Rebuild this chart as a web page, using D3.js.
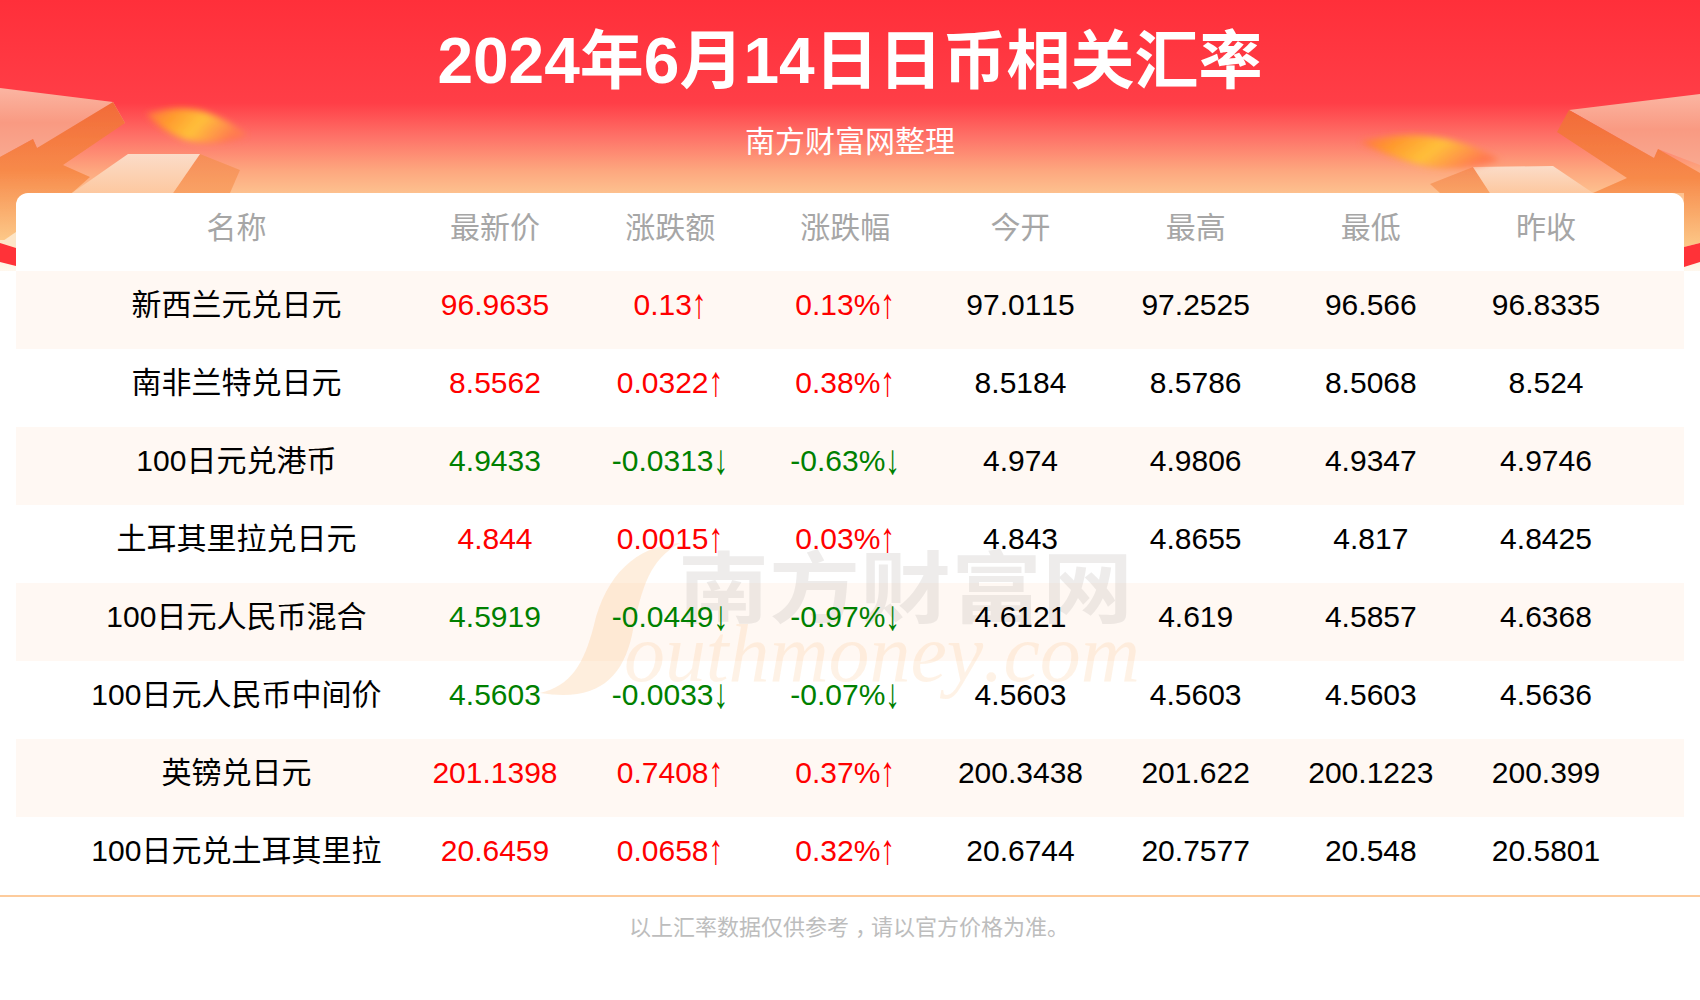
<!DOCTYPE html>
<html lang="zh">
<head>
<meta charset="utf-8">
<title>2024年6月14日日币相关汇率</title>
<script src="https://d3js.org/d3.v7.min.js"></script>
<style>
	html, body { margin: 0; padding: 0; background: #fff; }
	svg { display: block; }
	text { font-family: "Liberation Sans", "Noto Sans CJK SC", sans-serif; font-kerning: none; }
</style>
</head>
<body>
<div id="chart-area"></div>
<script>
const titleText = "2024年6月14日日币相关汇率"
const subtitleText = "南方财富网整理"
const footerBefore = "以上汇率数据仅供参考"
const footerComma = "，"
const footerAfter = "请以官方价格为准。"
const columns = ["最新价", "涨跌额", "涨跌幅", "今开", "最高", "最低", "昨收"]
const names = ["新西兰元兑日元", "南非兰特兑日元", "100日元兑港币", "土耳其里拉兑日元", "100日元人民币混合", "100日元人民币中间价", "英镑兑日元", "100日元兑土耳其里拉"]
const latest = [96.9635, 8.5562, 4.9433, 4.844, 4.5919, 4.5603, 201.1398, 20.6459]
const change = [0.13, 0.0322, -0.0313, 0.0015, -0.0449, -0.0033, 0.7408, 0.0658]
const changePct = [0.13, 0.38, -0.63, 0.03, -0.97, -0.07, 0.37, 0.32]
const open = [97.0115, 8.5184, 4.974, 4.843, 4.6121, 4.5603, 200.3438, 20.6744]
const high = [97.2525, 8.5786, 4.9806, 4.8655, 4.619, 4.5603, 201.622, 20.7577]
const low = [96.566, 8.5068, 4.9347, 4.817, 4.5857, 4.5603, 200.1223, 20.548]
const prevClose = [96.8335, 8.524, 4.9746, 4.8425, 4.6368, 4.5636, 200.399, 20.5801]

const WIDTH = 1700
const HEIGHT = 1000
const UP = "#ff0000"
const DOWN = "#008000"

const svg = d3.select("#chart-area").append("svg")
	.attr("width", WIDTH)
	.attr("height", HEIGHT)

const defs = svg.append("defs")

function gradient(id, stops, x2, y2) {
	const g = defs.append("linearGradient").attr("id", id)
		.attr("x1", 0).attr("y1", 0).attr("x2", x2).attr("y2", y2)
	stops.forEach(s => g.append("stop").attr("offset", s[0]).attr("stop-color", s[1]))
}
gradient("bg", [[0, "#ff2f3a"], [0.38, "#ff3e47"], [0.505, "#fe7268"], [0.627, "#fda67e"], [0.71, "#fdc08e"], [0.86, "#fde0b8"], [1, "#fff8ee"]], 0, 1)
gradient("pink", [[0, "#fbb5a2"], [0.5, "#f99a82"], [1, "#f9a88f"]], 0, 1)
gradient("orange", [[0, "#f26a38"], [0.5, "#f78a4a"], [1, "#fcc888"]], 0, 1)
gradient("paper", [[0, "#fbdcc8"], [1, "#fdc8a0"]], 0, 1)
gradient("paperSide", [[0, "#f68d58"], [1, "#f9a265"]], 0, 1)
gradient("flame", [[0, "#ff6e45"], [0.3, "#ff9a2e"], [0.6, "#ffc03a"], [1, "#ff7a50"]], 1, 0.3)

defs.append("filter").attr("id", "soft").attr("x", "-30%").attr("y", "-60%").attr("width", "160%").attr("height", "220%")
	.append("feGaussianBlur").attr("stdDeviation", 3)
defs.append("filter").attr("id", "edge")
	.append("feGaussianBlur").attr("stdDeviation", 0.7)

// header background
svg.append("rect")
	.attr("width", WIDTH)
	.attr("height", 271)
	.attr("fill", "url(#bg)")

// decoration, left and right of the title
const decor = svg.append("g").attr("filter", "url(#edge)")
const shape = (pts, fill) => decor.append("polygon").attr("points", pts.join(" ")).attr("fill", fill)

shape([[0, 157], [33, 139], [37, 148], [125, 123], [113, 102], [0, 88]], "url(#pink)")
shape([[0, 157], [33, 139], [37, 148], [113, 102], [125, 123], [63, 165], [90, 177], [72, 193], [16, 240], [0, 240]], "url(#orange)")
shape([[200, 154], [240, 170], [230, 193], [173, 193]], "url(#paperSide)")
shape([[128, 154], [200, 154], [173, 193], [72, 193]], "url(#paper)")
shape([[0, 243], [16, 232], [16, 248]], "#fde6c8")
shape([[0, 243], [16, 248], [16, 266], [0, 262]], "#ff3138")

shape([[1569, 110], [1700, 94], [1700, 165], [1658, 149], [1654, 158]], "url(#pink)")
shape([[1557, 132], [1569, 110], [1654, 158], [1658, 149], [1700, 173], [1700, 243], [1684, 247], [1684, 193], [1593, 193], [1627, 178]], "url(#orange)")
shape([[1430, 184], [1473, 167], [1490, 193], [1440, 193]], "url(#paperSide)")
shape([[1473, 167], [1553, 166], [1593, 193], [1490, 193]], "url(#paper)")
shape([[1684, 247], [1700, 243], [1700, 262], [1684, 267]], "#ff3138")

const flames = svg.append("g").attr("filter", "url(#soft)").attr("fill", "url(#flame)")
flames.append("path").attr("d", "M146,114 Q180,104 205,112 T247,135 Q220,146 195,142 T146,114 Z")
flames.append("path").attr("d", "M1360,142 Q1400,132 1435,137 T1500,160 Q1470,170 1440,168 T1360,142 Z")

// title
svg.append("text")
	.attr("x", WIDTH / 2)
	.attr("y", 83)
	.attr("text-anchor", "middle")
	.attr("font-size", 64)
	.attr("font-weight", 700)
	.attr("fill", "#fff")
	.text(titleText)

svg.append("text")
	.attr("x", WIDTH / 2)
	.attr("y", 152)
	.attr("text-anchor", "middle")
	.attr("font-size", 30)
	.attr("fill", "#fff")
	.text(subtitleText)

// table card
svg.append("path")
	.attr("d", "M16,271 V205 a12,12 0 0 1 12,-12 H1672 a12,12 0 0 1 12,12 V271 Z")
	.attr("fill", "#fff")

// scales
const y = d3.scaleBand()
	.domain(names)
	.range([271, 895])

const x = d3.scalePoint()
	.domain(columns)
	.range([495, 1546])

const nameX = 236.4

// stripes
svg.append("g").selectAll("rect")
	.data(names.filter((d, i) => i % 2 === 0))
	.enter().append("rect")
	.attr("x", 16)
	.attr("y", d => y(d))
	.attr("width", WIDTH - 32)
	.attr("height", y.bandwidth())
	.attr("fill", "#fff8f3")

// watermark
const mark = svg.append("g")
mark.append("path")
	.attr("d", "M680,543 C636,546 606,575 594,625 C584,665 570,686 540,693 C596,702 622,680 632,635 C642,585 650,560 680,543 Z")
	.attr("fill", "#fdbb78")
	.attr("opacity", 0.25)
mark.append("text")
	.attr("x", 678)
	.attr("y", 617)
	.attr("font-size", 78)
	.attr("font-weight", 700)
	.attr("textLength", 455)
	.attr("lengthAdjust", "spacingAndGlyphs")
	.attr("fill", "#b9b4b0")
	.attr("opacity", 0.24)
	.text("南方财富网")
mark.append("text")
	.attr("x", 624)
	.attr("y", 681)
	.attr("font-size", 82)
	.attr("font-style", "italic")
	.attr("textLength", 516)
	.attr("lengthAdjust", "spacing")
	.attr("fill", "#fdbb78")
	.attr("opacity", 0.18)
	.style("font-family", "'Liberation Serif', serif")
	.text("outhmoney.com")

// column headers
const headerY = 238
const headers = svg.append("g")
	.attr("font-size", 30)
	.attr("fill", "#a6a6a6")
	.attr("text-anchor", "middle")
headers.append("text").attr("x", nameX).attr("y", headerY).text("名称")
headers.selectAll(".col").data(columns).enter().append("text")
	.attr("class", "col")
	.attr("x", d => x(d))
	.attr("y", headerY)
	.text(d => d)

// rows
const ARROW_W = 15
const arrow = v => (v < 0 ? "↓" : "↑")
const tone = v => (v < 0 ? DOWN : UP)
const cells = (i) => [
	{ col: "最新价", label: String(latest[i]), fill: tone(change[i]) },
	{ col: "涨跌额", label: String(change[i]), arrow: arrow(change[i]), fill: tone(change[i]) },
	{ col: "涨跌幅", label: changePct[i].toFixed(2) + "%", arrow: arrow(changePct[i]), fill: tone(changePct[i]) },
	{ col: "今开", label: String(open[i]), fill: "#000" },
	{ col: "最高", label: String(high[i]), fill: "#000" },
	{ col: "最低", label: String(low[i]), fill: "#000" },
	{ col: "昨收", label: String(prevClose[i]), fill: "#000" }
]

const rows = svg.append("g").selectAll("g")
	.data(names)
	.enter().append("g")
	.attr("transform", d => `translate(0, ${y(d) + 44})`)
	.attr("font-size", 30)
	.attr("text-anchor", "middle")

rows.append("text")
	.attr("x", nameX)
	.attr("fill", "#000")
	.text(d => d)

rows.selectAll(".cell")
	.data((d, i) => cells(i))
	.enter().append("text")
	.attr("class", "cell")
	.attr("x", d => x(d.col) - (d.arrow ? ARROW_W / 2 : 0))
	.attr("fill", d => d.fill)
	.text(d => d.label)
	.each(function(d) {
		if (!d.arrow) return
		// the arrow sits after the number and is drawn taller than the font's own glyph
		const w = this.getComputedTextLength()
		d3.select(this.parentNode).append("text")
			.attr("transform", `translate(${x(d.col) + w / 2}, 3) scale(1, 1.4)`)
			.attr("fill", d.fill)
			.text(d.arrow)
	})

// footer
svg.append("line")
	.attr("x1", 0).attr("x2", WIDTH)
	.attr("y1", 896).attr("y2", 896)
	.attr("stroke", "#fdcb9c")
	.attr("stroke-width", 2)

const footer = svg.append("text")
	.attr("x", WIDTH / 2 - 1)
	.attr("y", 935)
	.attr("text-anchor", "middle")
	.attr("font-size", 22)
	.attr("fill", "#bdbdbd")
footer.append("tspan").text(footerBefore)
footer.append("tspan").attr("dx", 6).text(footerComma)
footer.append("tspan").attr("dx", -6).text(footerAfter)
</script>
</body>
</html>
